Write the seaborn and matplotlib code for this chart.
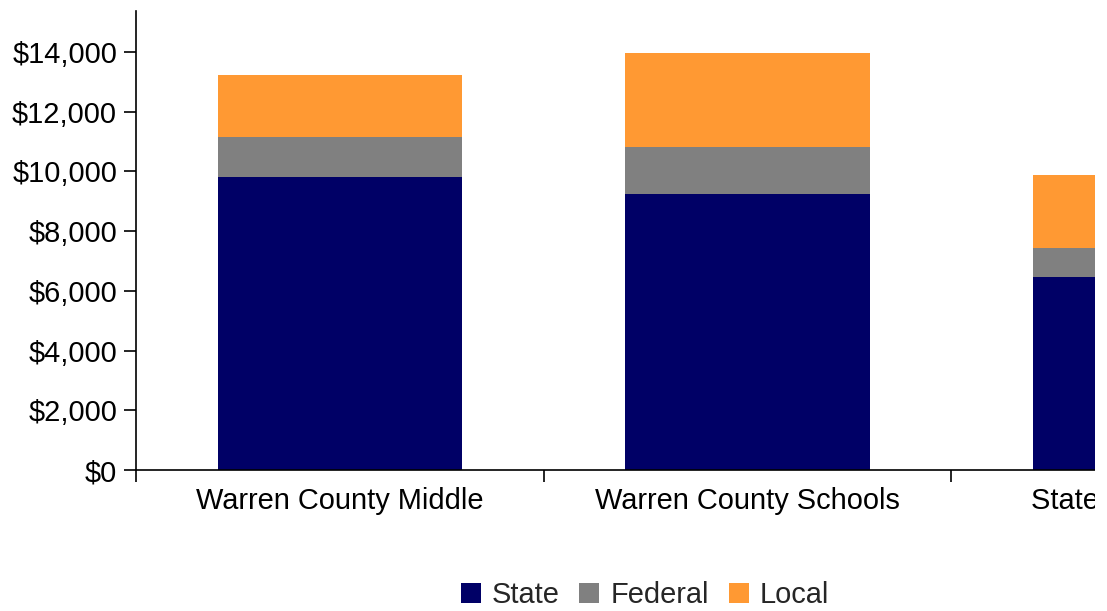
import matplotlib
matplotlib.use("Agg")
import matplotlib.pyplot as plt
import seaborn as sns
import pandas as pd
import numpy as np
from matplotlib.patches import Patch, Rectangle
from matplotlib.ticker import FuncFormatter

categories = ["Warren County Middle", "Warren County Schools", "State of Tennessee"]
state = [9810, 9240, 6460]
federal = [1340, 1575, 970]
local = [2075, 3150, 2445]
series_names = ["State", "Federal", "Local"]
colors = ["#000066", "#808080", "#FF9933"]

sns.set_theme(style="white")
plt.rcParams['font.family'] = ['Liberation Sans', 'DejaVu Sans']

df = pd.DataFrame({"category": categories, "State": state, "Federal": federal, "Local": local})
df["cum_state"] = df["State"]
df["cum_fed"] = df["State"] + df["Federal"]
df["cum_local"] = df["cum_fed"] + df["Local"]

W, H = 1107, 611
fig = plt.figure(figsize=(W / 100, H / 100), dpi=100)
ax = fig.add_axes([136 / W, (H - 470) / H, (1359 - 136) / W, (470 - 11) / H])

for col, c in zip(["cum_local", "cum_fed", "cum_state"], [colors[2], colors[1], colors[0]]):
    sns.barplot(data=df, x="category", y=col, color=c, width=0.6, ax=ax,
                saturation=1, linewidth=0, order=categories)

ax.set_xlim(-0.5, 2.5)
ax.set_ylim(0, 15370)
ax.set_yticks(np.arange(0, 14001, 2000))
ax.yaxis.set_major_formatter(FuncFormatter(lambda v, p: f"${v:,.0f}"))
ax.set_xlabel("")
ax.set_ylabel("")

fs = 20.9
ax.tick_params(axis="y", which="major", length=8.6, width=1.2, color="black",
               labelsize=fs, labelcolor="black", pad=5, left=True, direction="out")
ax.set_xticks([0, 1, 2])
ax.set_xticklabels(categories)
ax.tick_params(axis="x", which="major", length=0, labelsize=fs, labelcolor="black", pad=12)
ax.set_xticks([-0.5, 0.5, 1.5, 2.5], minor=True)
ax.tick_params(axis="x", which="minor", length=8.6, width=1.2, color="black", bottom=True, direction="out")

for s in ["top", "right"]:
    ax.spines[s].set_visible(False)
for s in ["left", "bottom"]:
    ax.spines[s].set_color("black")
    ax.spines[s].set_linewidth(1.2)

handles = [Patch(facecolor=c, edgecolor="none", label=n) for n, c in zip(series_names, colors)]
fig.legend(handles=handles, loc="center", bbox_to_anchor=(645 / W, (H - 595) / H), ncol=3,
           frameon=False, fontsize=fs, handlelength=0.69, handleheight=0.69,
           handletextpad=0.38, columnspacing=0.69, borderaxespad=0, borderpad=0)

# the reference view is clipped at its right edge; mask the last strip
fig.patches.append(Rectangle((1095 / W, 0), 1, 1, transform=fig.transFigure,
                             facecolor="white", edgecolor="none", zorder=100))

fig.savefig("out.png", dpi=100)
